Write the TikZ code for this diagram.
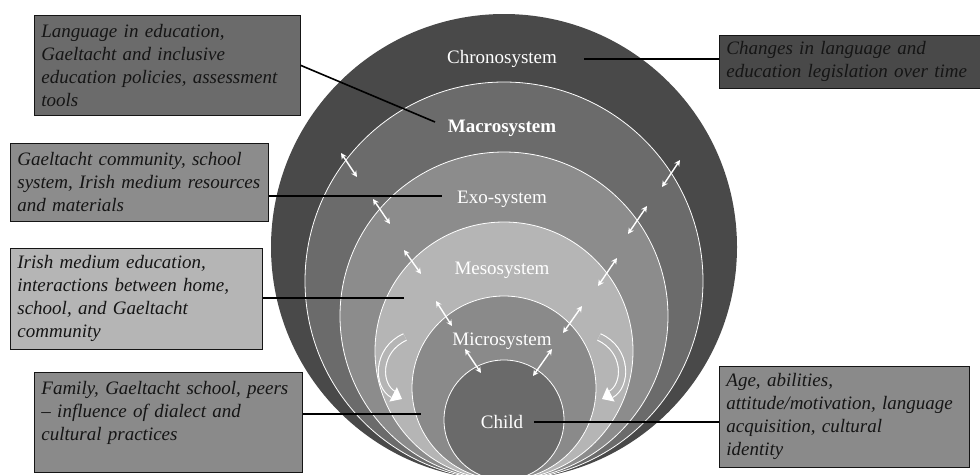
\documentclass[tikz,border=0pt]{standalone}
\usepackage{fontspec}
\setmainfont{Liberation Serif}
\usetikzlibrary{arrows.meta,positioning,calc}
\definecolor{chrono}{HTML}{494949}
\definecolor{macro}{HTML}{6B6B6B}
\definecolor{exo}{HTML}{8C8C8C}
\definecolor{meso}{HTML}{B5B5B5}
\definecolor{micro}{HTML}{8A8A8A}
\definecolor{childc}{HTML}{6A6A6A}
\definecolor{ink}{HTML}{151515}

\begin{document}
\begin{tikzpicture}[x=1pt,y=-1pt,
  ring/.style={draw=white,line width=0.8pt},
  layer/.style={text=white,inner sep=3pt,font=\fontsize{19}{23}\selectfont},
  infobox/.style={draw=ink,line width=0.8pt,anchor=north west,align=left,
    inner xsep=7pt,inner ysep=5pt,text=ink,font=\itshape\fontsize{19}{23}\selectfont},
  leader/.style={draw=black,line width=1.6pt},
  link/.style={white,line width=1.4pt,{Stealth[length=6pt,width=6pt]}-{Stealth[length=6pt,width=6pt]}},
  turn/.style={draw=white,line width=1.1pt,double=meso,double distance=6pt,
    -{Triangle[length=10pt,width=16pt,fill=white]}}
]
\useasboundingbox (0,0) rectangle (980,474);

% nested systems, all touching at the bottom
\begin{scope}
  \clip (0,0) rectangle (980,474);
  \fill[chrono] (504,247) circle[radius=233pt];
  \filldraw[ring,fill=macro] (504,281) circle[radius=199pt];
  \filldraw[ring,fill=exo] (504,316) circle[radius=164pt];
  \filldraw[ring,fill=meso] (504,351) circle[radius=129pt];
  \filldraw[ring,fill=micro] (504,388) circle[radius=92pt];
  \filldraw[ring,fill=childc] (504,420) circle[radius=60pt];
\end{scope}

\node[layer] (chronolbl) at (502,59) {Chronosystem};
\node[layer,font=\bfseries\fontsize{19}{23}\selectfont] (macrolbl) at (502,128) {Macrosystem};
\node[layer] (exolbl) at (502,199) {Exo-system};
\node[layer] (mesolbl) at (502,270) {Mesosystem};
\node[layer] (microlbl) at (502,341) {Microsystem};
\node[layer] (childlbl) at (502,422) {Child};

% two-way influences between layers
\foreach \xa/\ya/\xb/\yb in {341/153/357/177, 680/160/662/187,
    373/199/390/224, 647/206/628/234,
    404/250/421/274, 617/258/598/286,
    436/301/452/326, 582/306/563/333,
    465/349/481/373, 552/349/533/376}
  \draw[link] (\xa,\ya) -- (\xb,\yb);

\draw[turn] (405,337) .. controls (376,350) and (377,386) .. (402,399);
\draw[turn] (599,337) .. controls (628,350) and (627,386) .. (602,399);

% description boxes
\node[infobox,fill=macro,text width=252pt,minimum height=100pt] (policybox) at (34,15)
  {Language in education,\\Gaeltacht and inclusive\\education policies, assessment\\tools};
\node[infobox,fill=exo,text width=244pt,minimum height=78pt] (communitybox) at (10,143)
  {Gaeltacht community, school\\system, Irish medium resources\\and materials};
\node[infobox,fill=meso,text width=238pt,minimum height=101pt] (irishbox) at (10,248)
  {Irish medium education,\\interactions between home,\\school, and Gaeltacht\\community};
\node[infobox,fill=micro,text width=254pt,minimum height=100pt] (familybox) at (34,372)
  {Family, Gaeltacht school, peers\\-- influence of dialect and\\cultural practices\\\mbox{}};
\node[infobox,fill=chrono,text width=249pt,minimum height=53pt] (legisbox) at (719,35)
  {Changes in language and\\education legislation over time};
\node[infobox,fill=micro,text width=236pt,minimum height=101pt] (agebox) at (719,366)
  {Age, abilities,\\attitude/motivation, language\\acquisition, cultural\\identity};

% leader lines
\coordinate (macroend) at (435,122);
\coordinate (exoend) at (442,196);
\coordinate (mesoend) at (404,298);
\coordinate (microend) at (421,414);
\draw[leader] (policybox.east) -- (macroend);
\draw[leader] ([xshift=24pt]chronolbl.east) -- (chronolbl.east -| legisbox.west);
\draw[leader] (exoend -| communitybox.east) -- (exoend);
\draw[leader] (mesoend -| irishbox.east) -- (mesoend);
\draw[leader] (microend -| familybox.east) -- (microend);
\draw[leader] ([xshift=8pt]childlbl.east) -- (childlbl.east -| agebox.west);
\end{tikzpicture}
\end{document}
